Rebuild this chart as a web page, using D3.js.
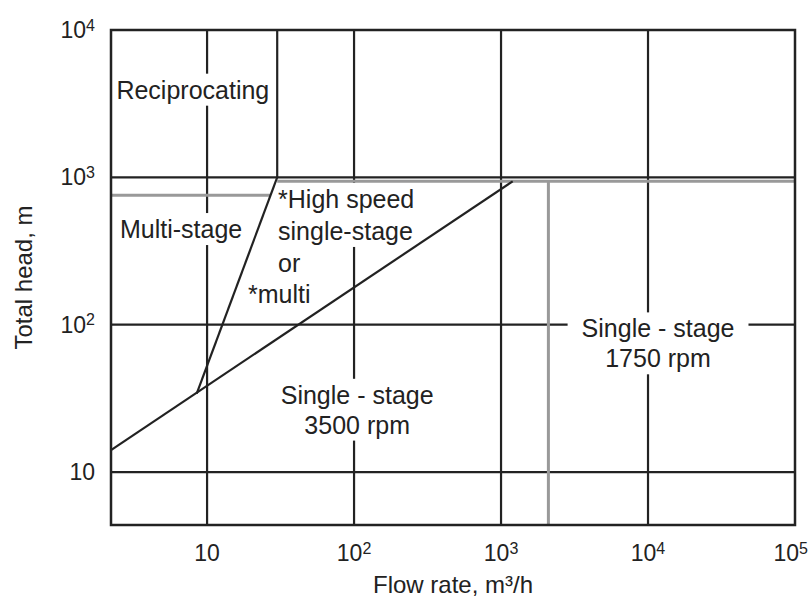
<!DOCTYPE html>
<html>
<head>
<meta charset="utf-8">
<script src="https://cdn.jsdelivr.net/npm/d3@7"></script>
<style>
  body { margin: 0; background: #fff; }
  text { font-family: "Liberation Sans", Arial, sans-serif; fill: #222; }
</style>
</head>
<body>
<div id="chart"></div>
<script>
// axis extents (log-log)
var xMin = 2.22, xMax = 1e5;
var yMin = 4.37, yMax = 1e4;

// decade ticks
var xTicks = [10, 100, 1000, 10000, 100000];
var xTickLabels = [["10", ""], ["10", "2"], ["10", "3"], ["10", "4"], ["10", "5"]];
var yTicks = [10, 100, 1000, 10000];
var yTickLabels = [["10", ""], ["10", "2"], ["10", "3"], ["10", "4"]];

// region boundaries, [flow, head]
var recipEdge = [[30, 1e4], [30, 1000]];
var steepLine = [[8.5, 34], [30, 1000]];
var diagLine = [[xMin, 14.1], [1200, 940]];
var multiTop = [[xMin, 755], [27, 755]];
var highTop = [[30, 940], [xMax, 940]];
var stage1750Edge = [[2100, 940], [2100, yMin]];

// region labels: text, flow, head, anchor
var labels = [
  {text: "Reciprocating", x: 8.0, y: 3920, anchor: "middle"},
  {text: "Multi-stage", x: 6.66, y: 444, anchor: "middle"},
  {text: "*High speed", x: 30.4, y: 710, anchor: "start"},
  {text: "single-stage", x: 30.4, y: 431, anchor: "start"},
  {text: "or", x: 30.4, y: 261, anchor: "start"},
  {text: "*multi", x: 19.0, y: 161, anchor: "start"},
  {text: "Single - stage", x: 105, y: 33.3, anchor: "middle"},
  {text: "3500 rpm", x: 105, y: 20.9, anchor: "middle"},
  {text: "Single - stage", x: 11700, y: 94, anchor: "middle"},
  {text: "1750 rpm", x: 11700, y: 58.9, anchor: "middle"}
];

var W = 810, H = 598;
var margin = {top: 30, right: 15, bottom: 73, left: 111};

var svg = d3.select("#chart").append("svg")
    .attr("width", W)
    .attr("height", H);

var x = d3.scaleLog().domain([xMin, xMax]).range([margin.left, W - margin.right]);
var y = d3.scaleLog().domain([yMin, yMax]).range([H - margin.bottom, margin.top]);

var line = d3.line()
    .x(function(d) { return x(d[0]); })
    .y(function(d) { return y(d[1]); });

// grid lines
svg.append("g")
  .selectAll("line")
  .data(xTicks.slice(0, -1))
  .enter().append("line")
    .attr("x1", function(d) { return x(d); })
    .attr("x2", function(d) { return x(d); })
    .attr("y1", y(yMin))
    .attr("y2", y(yMax))
    .attr("stroke", "#222")
    .attr("stroke-width", 2.2);

svg.append("g")
  .selectAll("line")
  .data(yTicks.slice(0, -1))
  .enter().append("line")
    .attr("x1", x(xMin))
    .attr("x2", x(xMax))
    .attr("y1", function(d) { return y(d); })
    .attr("y2", function(d) { return y(d); })
    .attr("stroke", "#222")
    .attr("stroke-width", 2.2);

// labels with white backing so grid lines break around them
var lab = svg.append("g");
var texts = lab.selectAll("text")
  .data(labels)
  .enter().append("text")
    .attr("x", function(d) { return x(d.x); })
    .attr("y", function(d) { return y(d.y); })
    .attr("dy", "0.35em")
    .attr("text-anchor", function(d) { return d.anchor; })
    .style("font-size", "25px")
    .text(function(d) { return d.text; });

texts.each(function() {
  var b = this.getBBox();
  lab.insert("rect", "text")
    .attr("x", b.x - 14)
    .attr("y", b.y - 2)
    .attr("width", b.width + 28)
    .attr("height", b.height + 4)
    .attr("fill", "#fff");
});

// gray boundaries
[multiTop, highTop, stage1750Edge].forEach(function(pts) {
  svg.append("path")
    .datum(pts)
    .attr("d", line)
    .attr("fill", "none")
    .attr("stroke", "#999")
    .attr("stroke-width", 3);
});

// dark boundaries
[recipEdge, steepLine, diagLine].forEach(function(pts) {
  svg.append("path")
    .datum(pts)
    .attr("d", line)
    .attr("fill", "none")
    .attr("stroke", "#222")
    .attr("stroke-width", 2.2);
});

// frame
svg.append("rect")
  .attr("x", x(xMin))
  .attr("y", y(yMax))
  .attr("width", x(xMax) - x(xMin))
  .attr("height", y(yMin) - y(yMax))
  .attr("fill", "none")
  .attr("stroke", "#222")
  .attr("stroke-width", 2.5);

// tick labels
function tickLabel(sel, d) {
  sel.append("tspan").text(d[0]);
  if (d[1]) {
    sel.append("tspan")
      .attr("dy", "-0.45em")
      .style("font-size", "16px")
      .text(d[1]);
  }
}

svg.append("g")
  .selectAll("text")
  .data(xTicks)
  .enter().append("text")
    .attr("x", function(d) { return x(d); })
    .attr("y", y(yMin) + 36)
    .attr("text-anchor", "middle")
    .style("font-size", "23px")
    .each(function(d, i) { tickLabel(d3.select(this), xTickLabels[i]); })
    .each(function(d) {
      // keep the last label inside the page
      var b = this.getBBox();
      var over = b.x + b.width - (W - 2);
      if (over > 0) d3.select(this).attr("x", x(d) - over);
    });

svg.append("g")
  .selectAll("text")
  .data(yTicks)
  .enter().append("text")
    .attr("x", x(xMin) - 16)
    .attr("y", function(d) { return y(d) + 8; })
    .attr("text-anchor", "end")
    .style("font-size", "23px")
    .each(function(d, i) { tickLabel(d3.select(this), yTickLabels[i]); });

// axis titles
svg.append("text")
  .attr("x", (x(xMin) + x(xMax)) / 2)
  .attr("y", H - 5)
  .attr("text-anchor", "middle")
  .style("font-size", "24px")
  .text("Flow rate, m³/h");

svg.append("text")
  .attr("transform", "rotate(-90)")
  .attr("x", -(y(yMin) + y(yMax)) / 2)
  .attr("y", 32)
  .attr("text-anchor", "middle")
  .style("font-size", "24px")
  .text("Total head, m");
</script>
</body>
</html>
